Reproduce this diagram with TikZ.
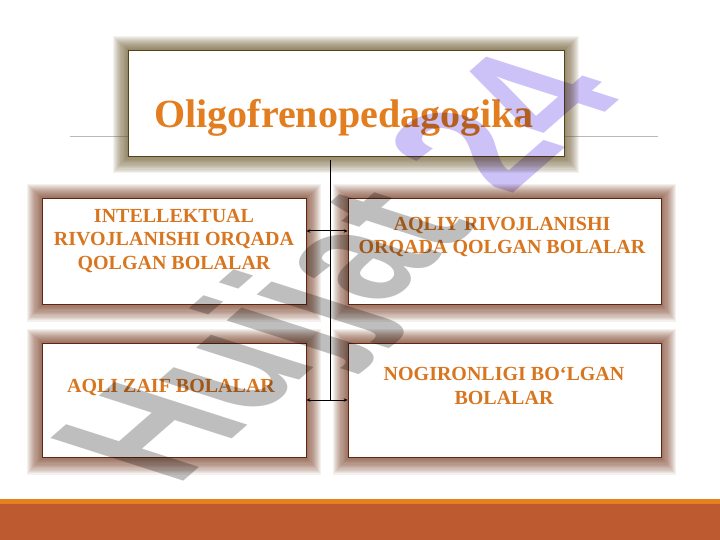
\documentclass[tikz,border=0pt]{standalone}
\usepackage{fontspec}
\setmainfont{Liberation Serif}
\newfontfamily\wmfont{Liberation Sans}
\usetikzlibrary{arrows.meta}
\definecolor{txtor}{RGB}{216,118,32}
\definecolor{titleor}{RGB}{226,126,32}
\definecolor{glowA}{RGB}{100,80,30}
\definecolor{glowB}{RGB}{112,46,20}
\definecolor{barred}{RGB}{190,90,48}
\definecolor{barorange}{RGB}{232,128,28}
\definecolor{wmgray}{RGB}{190,190,190}
\definecolor{wmpurple}{RGB}{204,194,248}
\definecolor{rulegray}{RGB}{185,185,185}
\newcommand\boxglow[5]{%
  \foreach \k in {1,...,14}{%
    \fill[#5,opacity=0.07] (#1-\k*1.1,#2-\k*1.0) rectangle (#3+\k*1.1,#4+\k*1.25);}}
\begin{document}
\begin{tikzpicture}[x=1pt,y=-1pt,
  box/.style={draw=#1!85!black,line width=0.8pt,fill=white,inner sep=0pt},
  lbl/.style={text=txtor,font=\bfseries\fontsize{20}{23.5}\selectfont,align=center,inner sep=0pt,anchor=north},
  link/.style={line width=0.7pt,black},
  dbl/.style={line width=1pt,black,{Stealth[length=4pt,width=3.5pt]}-{Stealth[length=4pt,width=3.5pt]}}]
\useasboundingbox (0,0) rectangle (720,540);
\fill[white] (0,0) rectangle (720,540);
% rule behind title
\draw[rulegray,line width=0.6pt] (70,136) -- (658,136);
% glows
\boxglow{128}{50}{564}{156}{glowA}
\boxglow{42}{198}{306}{304}{glowB}
\boxglow{348}{198}{661}{304}{glowB}
\boxglow{42}{343}{306}{457}{glowB}
\boxglow{348}{343}{661}{457}{glowB}
% boxes
\node[box=glowA,minimum width=436pt,minimum height=106pt] (top) at (346,103) {};
\node[box=glowB,minimum width=264pt,minimum height=106pt] (tl) at (174,251) {};
\node[box=glowB,minimum width=313pt,minimum height=106pt] (tr) at (504.5,251) {};
\node[box=glowB,minimum width=264pt,minimum height=114pt] (bl) at (174,400) {};
\node[box=glowB,minimum width=313pt,minimum height=114pt] (br) at (504.5,400) {};
% texts
\node[text=titleor,font=\bfseries\fontsize{40}{44}\selectfont,anchor=base,inner sep=0pt] (title) at (344,128) {Oligofrenopedagogika};
\node[lbl] (ttl) at (174,209) {INTELLEKTUAL\\RIVOJLANISHI ORQADA\\QOLGAN BOLALAR};
\node[lbl] (ttr) at (502,217) {AQLIY RIVOJLANISHI\\ORQADA QOLGAN BOLALAR};
\node[lbl] (tbl) at (171,379) {AQLI ZAIF BOLALAR};
\node[lbl] (tbr) at (504,367) {NOGIRONLIGI BO‘LGAN\\BOLALAR};
% connectors
\coordinate (vtop) at (330,160);
\coordinate (vbot) at (330,400);
\coordinate (a1) at (330,231);
\coordinate (a2) at (330,400);
\draw[link] (vtop) -- (vbot);
\draw[dbl] (tl.east |- a1) -- (tr.west |- a1);
\draw[dbl] (bl.east |- a2) -- (br.west |- a2);
% bottom bar
\fill[barorange] (0,498.5) rectangle (720,503.5);
\fill[barred] (0,503.5) rectangle (720,540);
% watermark
\begin{scope}[shift={(176,488)},cm={0.79,0.69,-1.40,0.45,(0,0)},blend mode=multiply]
\node[transform shape,anchor=base west,inner sep=0pt,font=\wmfont\bfseries\fontsize{138}{138}\selectfont] (wm)
  at (0,0) {\textcolor{wmgray}{Hujjat}\phantom{.}\textcolor{wmpurple}{24}};
\end{scope}
\end{tikzpicture}
\end{document}
